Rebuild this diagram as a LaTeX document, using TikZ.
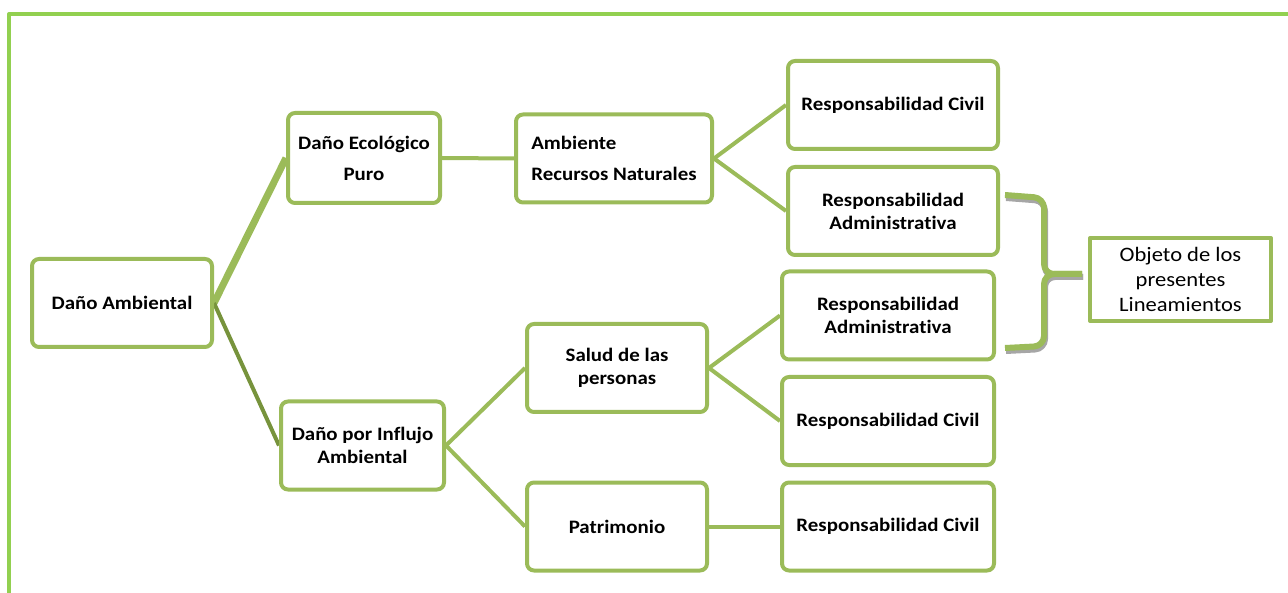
\documentclass[tikz,border=0pt]{standalone}
\usepackage{fontspec}
\setmainfont{Carlito}[FakeStretch=1.1, RawFeature={-liga;-clig;-calt;-dlig}]
\usepackage{tikz}
\usetikzlibrary{positioning, calc, backgrounds}

\definecolor{boxgreen}{HTML}{9BBB59}
\definecolor{darkgreen}{HTML}{77933C}
\definecolor{framegreen}{HTML}{92D050}

\begin{document}
\begin{tikzpicture}[x=1pt, y=-1pt, line join=round,
    dbox/.style={draw=boxgreen, line width=4pt, rounded corners=7pt, fill=white,
        inner sep=0pt, align=center, minimum height=88pt,
        font=\bfseries\fontsize{19}{23}\selectfont},
    link/.style={draw=boxgreen, line width=4pt},
    bracepath/.style={line width=6pt, rounded corners=10pt}]
                    \useasboundingbox (0, 0) rectangle (1288, 593);
                    \draw[framegreen, line width=4pt] (9, 593) -- (9, 14) -- (1288, 14);
                    % boxes
                    \node[dbox, minimum width=180pt] (da) at (122, 303) {Daño Ambiental};
                    \node[dbox, minimum width=152pt, minimum height=90pt,
                        font=\bfseries\fontsize{19}{31}\selectfont] (dep) at (364, 158) {Daño Ecológico\\Puro};
                    \node[dbox, minimum width=163pt] (dia) at (362.5, 445.5) {Daño por Influjo\\Ambiental};
                    \node[dbox, minimum width=196pt, align=left,
                        font=\bfseries\fontsize{19}{31}\selectfont] (arn) at (614, 158.5) {Ambiente\\Recursos Naturales};
                    \node[dbox, minimum width=180pt] (salud) at (617, 368) {Salud de las\\personas};
                    \node[dbox, minimum width=180pt] (patri) at (617, 526.5) {Patrimonio};
                    \node[dbox, minimum width=210pt] (rcA) at (893, 105) {Responsabilidad Civil};
                    \node[dbox, minimum width=210pt] (raA) at (893, 211) {Responsabilidad\\Administrativa};
                    \node[dbox, minimum width=212pt] (raB) at (888, 315.5) {Responsabilidad\\Administrativa};
                    \node[dbox, minimum width=212pt] (rcB) at (888, 421) {Responsabilidad Civil};
                    \node[dbox, minimum width=212pt] (rcC) at (888, 526.5) {Responsabilidad Civil};
                    \node[draw=boxgreen, line width=4pt, inner sep=0pt, align=center,
                        minimum width=181pt, minimum height=83pt,
                        font=\fontsize{20.5}{25}\selectfont] (obj) at (1180.5, 279.5) {Objeto de los\\presentes\\Lineamientos};
                    % connectors
                    \begin{scope}[on background layer]
                        \draw[link, line width=7pt] (da.east) -- (dep.west);
                        \draw[link, draw=darkgreen] (da.east) -- (dia.west);
                        \draw[link] (dep.east) -- (arn.west);
                        \draw[link] (arn.east) -- (rcA.west);
                        \draw[link] (arn.east) -- (raA.west);
                        \draw[link] (dia.east) -- (salud.west);
                        \draw[link] (dia.east) -- (patri.west);
                        \draw[link] (salud.east) -- (raB.west);
                        \draw[link] (salud.east) -- (rcB.west);
                        \draw[link] (patri.east) -- (rcC.west);
                    \end{scope}
                    % brace
                    \begin{scope}[shift={(1, 3)}, gray!70]
                        \draw[bracepath] (1005, 195) -- (1044, 198) -- (1044, 274) -- (1082, 274);
                        \draw[bracepath] (1082, 274) -- (1044, 274) -- (1044, 346) -- (1005, 348);
                    \end{scope}
                    \draw[bracepath, boxgreen] (1005, 195) -- (1044, 198) -- (1044, 274) -- (1082, 274);
                    \draw[bracepath, boxgreen] (1082, 274) -- (1044, 274) -- (1044, 346) -- (1005, 348);
                \end{tikzpicture}
\end{document}
